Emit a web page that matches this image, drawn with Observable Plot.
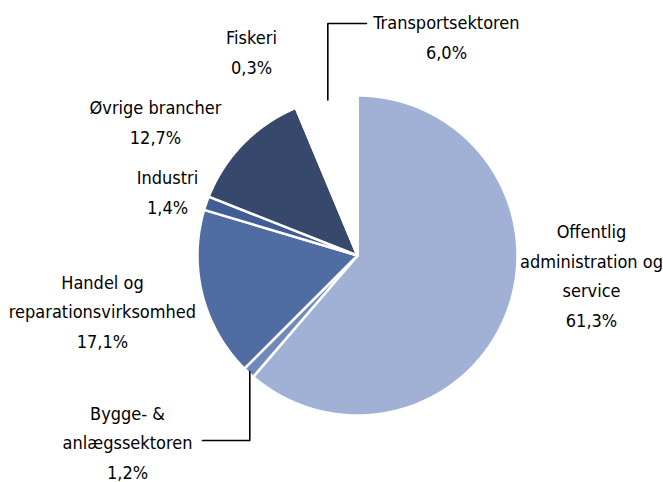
<!DOCTYPE html>
<html>
<head>
<meta charset="utf-8">
<script src="https://cdn.jsdelivr.net/npm/d3@7"></script>
<script src="https://cdn.jsdelivr.net/npm/@observablehq/plot@0.6"></script>
<style>
  html, body { margin: 0; padding: 0; background: #fff; }
  #chart svg { display: block; }
</style>
</head>
<body>
<div id="chart"></div>
<script>
// ---- data ----
const categories = [
  "Offentlig administration og service",
  "Bygge- & anlægssektoren",
  "Handel og reparationsvirksomhed",
  "Industri",
  "Øvrige brancher",
  "Fiskeri",
  "Transportsektoren"
];
const shares = [61.3, 1.2, 17.1, 1.4, 12.7, 0.3, 6.0];
const labelNames = [
  "Offentlig\nadministration og\nservice",
  "Bygge- &\nanlægssektoren",
  "Handel og\nreparationsvirksomhed",
  "Industri",
  "Øvrige brancher",
  "Fiskeri",
  "Transportsektoren"
];

// ---- styles / layout (in pie-radius units) ----
const colors = ["#a0b1d5", "#7088ba", "#4f6da2", "#405d95", "#36496d", "#ffffff", "#ffffff"];
const labelX = [1.4625, -1.4375, -1.594, -1.1875, -1.2625, -0.6625, 0.556];
const labelY = [-0.109, -1.153, -0.334, 0.412, 0.85, 1.288, 1.381];
const leaders = { "Transportsektoren": [1.45, 0.056], "Bygge- & anlægssektoren": [-1.156, -0.969] };

// pick a condensed font that is installed
function hasFont(name) {
  const c = document.createElement("canvas").getContext("2d");
  const s = "reparationsvirksomhed Øvrige";
  c.font = "40px monospace"; const a = c.measureText(s).width;
  c.font = `40px '${name}', monospace`; const b = c.measureText(s).width;
  return Math.abs(a - b) > 0.5;
}
let fontFamily = "sans-serif", fontSize = 18;
if (hasFont("DejaVu Sans Condensed")) { fontFamily = "'DejaVu Sans Condensed'"; fontSize = 18; }
else if (hasFont("Liberation Sans Narrow")) { fontFamily = "'Liberation Sans Narrow'"; fontSize = 21; }
else { fontFamily = "'DejaVu Sans'"; fontSize = 16; }

const fmt = v => d3.format(".1f")(v).replace(".", ",") + "%";

const arcs = d3.pie().sort(null).value(d => d)(shares);

// slice polygons in pie-radius units (y up), angle 0 at 12 o'clock, clockwise
const slicePts = [];
arcs.forEach((a, i) => {
  const name = categories[i];
  slicePts.push({name, color: colors[i], x: 0, y: 0});
  const n = Math.max(2, Math.ceil((a.endAngle - a.startAngle) / (Math.PI / 720)));
  for (let k = 0; k <= n; k++) {
    const t = a.startAngle + (a.endAngle - a.startAngle) * k / n;
    slicePts.push({name, color: colors[i], x: Math.sin(t), y: Math.cos(t)});
  }
  slicePts.push({name, color: colors[i], x: 0, y: 0});
});

const labelData = categories.map((c, i) => ({
  name: c, text: labelNames[i] + "\n" + fmt(shares[i]), x: labelX[i], y: labelY[i]
}));

const leaderPts = [];
for (const [name, [yk, xe]] of Object.entries(leaders)) {
  const i = categories.indexOf(name);
  const mid = (arcs[i].startAngle + arcs[i].endAngle) / 2;
  const x0 = Math.sin(mid) * 0.99, y0 = Math.cos(mid) * 0.99;
  leaderPts.push({name, x: x0, y: y0}, {name, x: x0, y: yk}, {name, x: xe, y: yk});
}

const cx = 357, cy = 255, R = 160, W = 663, H = 482;
const chart = Plot.plot({
  width: W,
  height: H,
  marginLeft: cx - R,
  marginRight: W - cx - R,
  marginTop: cy - R,
  marginBottom: H - cy - R,
  x: {domain: [-1, 1], axis: null},
  y: {domain: [-1, 1], axis: null},
  style: {background: "#fff", fontFamily: fontFamily},
  marks: [
    Plot.line(slicePts, {x: "x", y: "y", z: "name", fill: "color", stroke: "#fff", strokeWidth: 2.5, strokeLinejoin: "round", curve: "linear"}),
    Plot.line(leaderPts, {x: "x", y: "y", z: "name", stroke: "#000", strokeWidth: 1.6, strokeLinejoin: "miter"}),
    Plot.text(labelData, {x: "x", y: "y", text: "text", fontSize: fontSize, lineHeight: 29.5 / fontSize, fill: "#000", textAnchor: "middle", fontFamily: fontFamily})
  ]
});
document.getElementById("chart").append(chart);
</script>
</body>
</html>
